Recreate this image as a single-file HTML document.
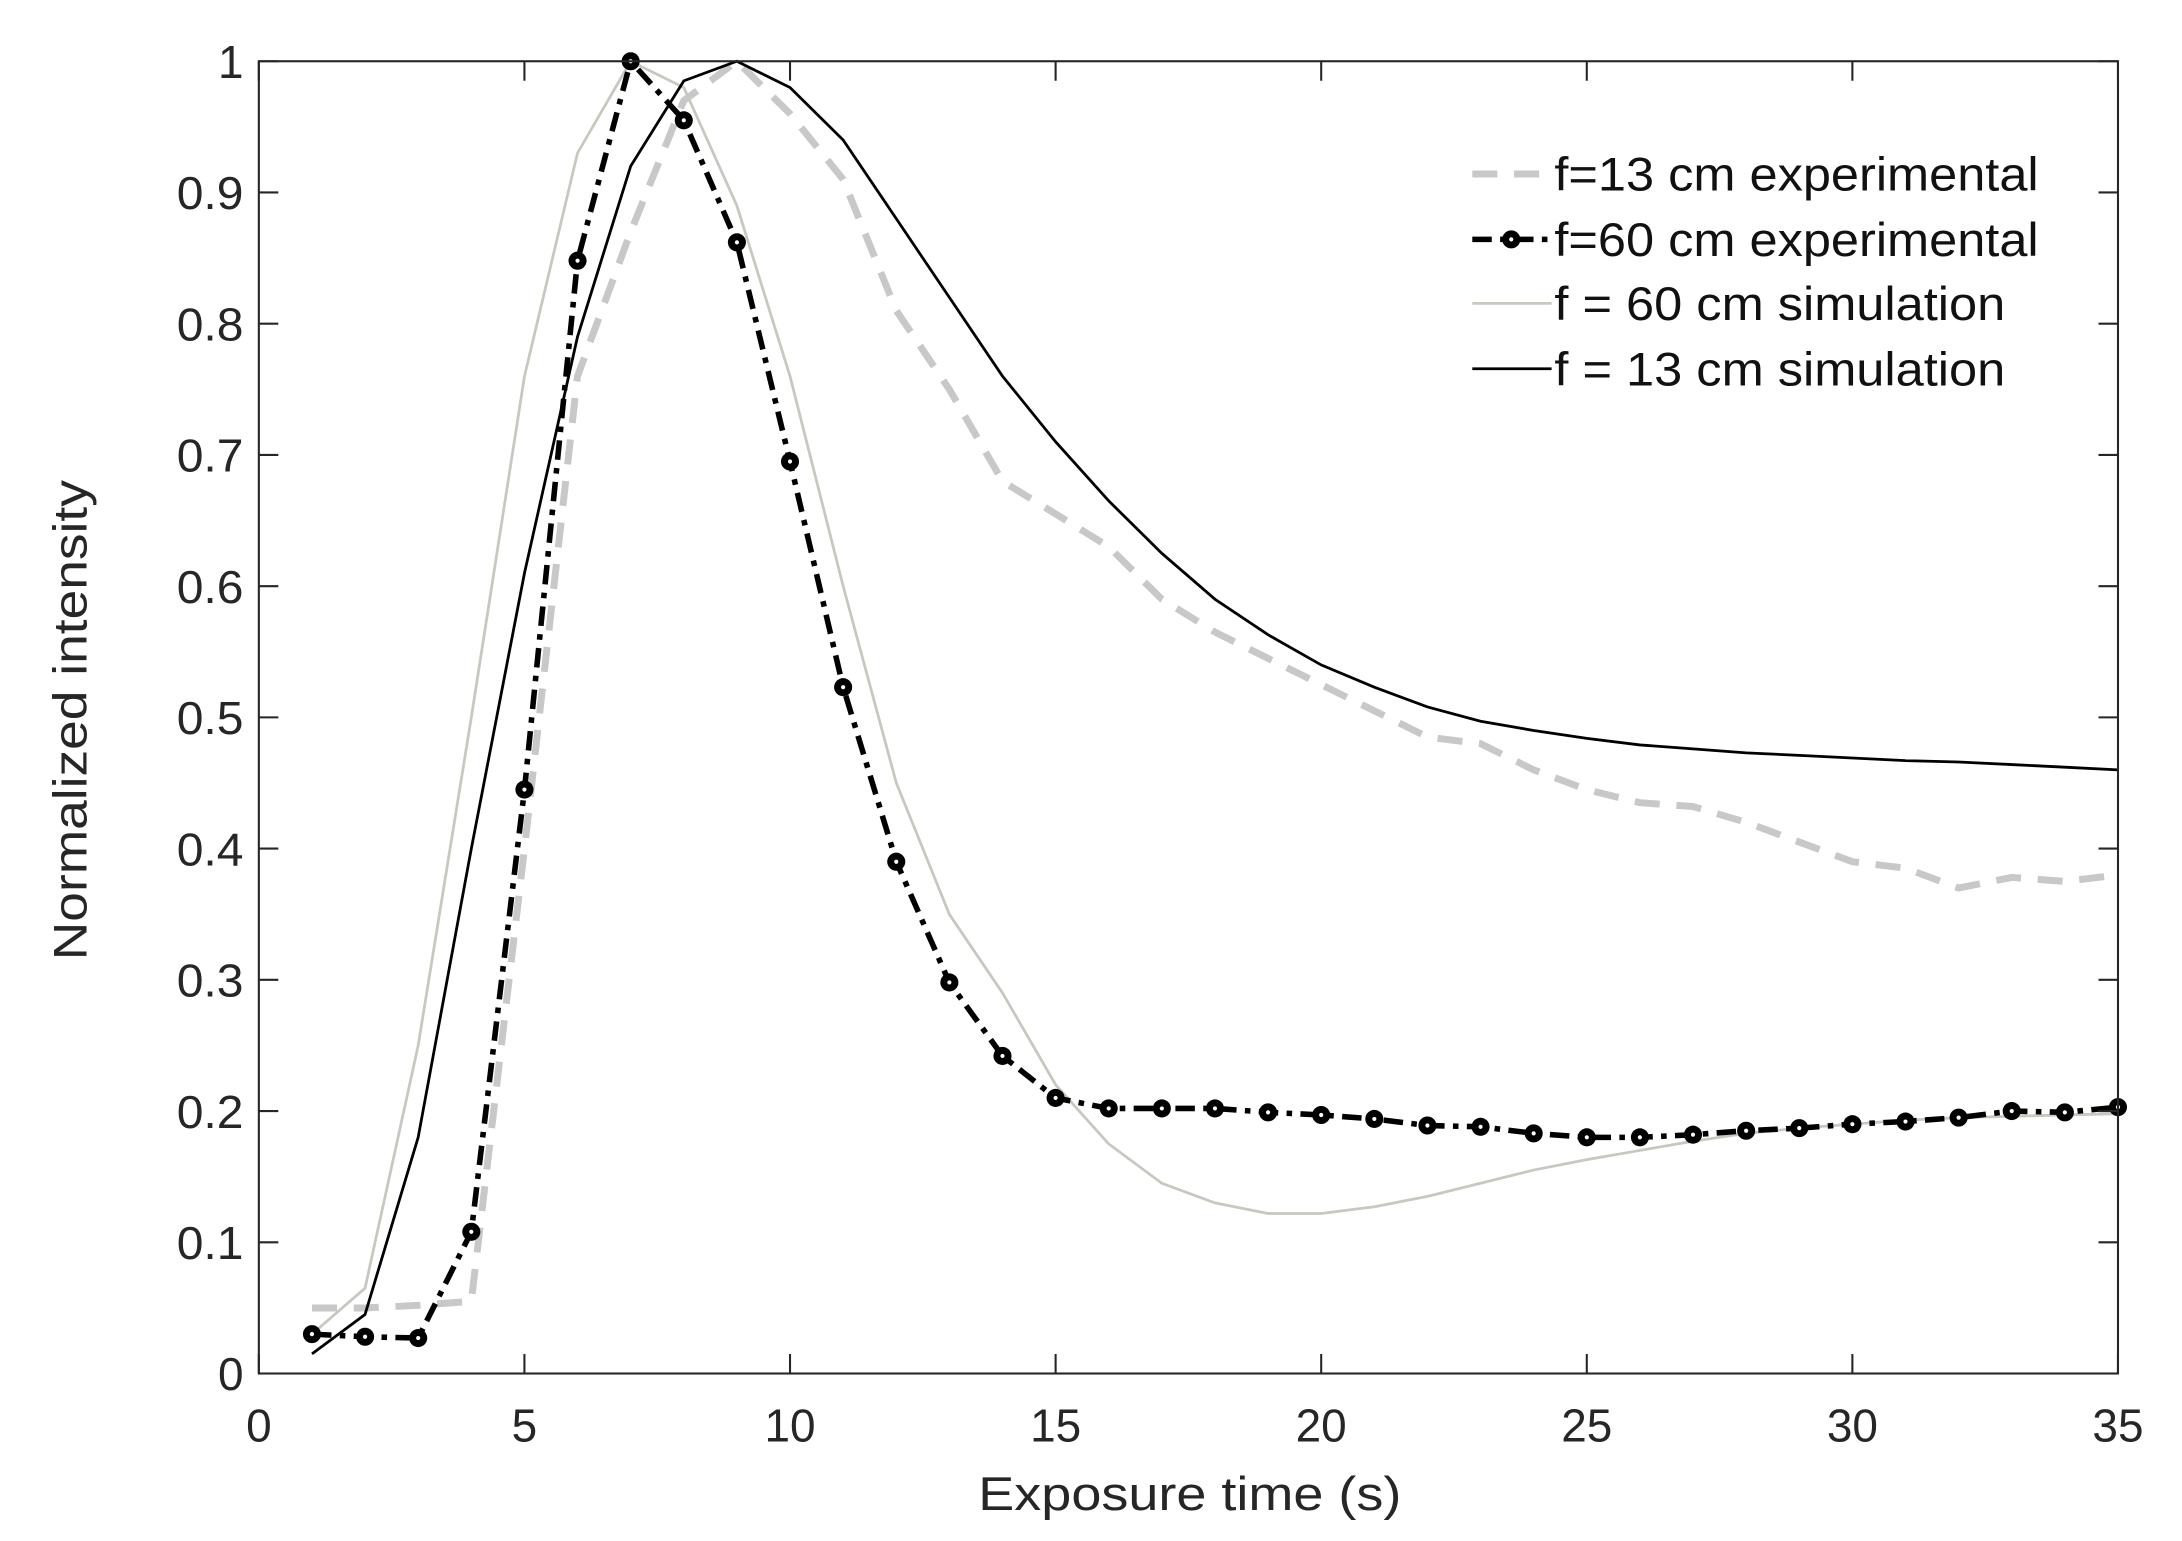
<!DOCTYPE html>
<html><head><meta charset="utf-8"><style>
html,body{margin:0;padding:0;background:#fff;}
svg{display:block;font-family:"Liberation Sans",Arial,sans-serif;}
</style></head><body>
<svg id="s" width="2182" height="1541" viewBox="0 0 1568 1107.35" xmlns="http://www.w3.org/2000/svg">
<rect width="1568" height="1108" fill="#fff"/>
<g id="plot"></g>
<rect x="186" y="44" width="1336" height="943" fill="none" stroke="#262626" stroke-width="1.5"/>
<g id="ticks" stroke="#262626" stroke-width="1.5"></g>
<g id="lbl" font-size="33" fill="#262626"></g>
<text x="703" y="1085" font-size="34" textLength="304" lengthAdjust="spacingAndGlyphs" fill="#262626">Exposure time (s)</text>
<text transform="translate(62,690) rotate(-90)" font-size="34" textLength="345" lengthAdjust="spacingAndGlyphs" fill="#262626">Normalized intensity</text>
<g font-size="34" fill="#111">
<line x1="1058" y1="125" x2="1115" y2="125" stroke="#c8c8c8" stroke-width="5" stroke-dasharray="18,12"/>
<text x="1117" y="137" textLength="348" lengthAdjust="spacingAndGlyphs">f=13 cm experimental</text>
<line x1="1058" y1="172" x2="1115" y2="172" stroke="#000" stroke-width="4" stroke-dasharray="14,6,4,6"/>
<circle cx="1086" cy="172" r="6.5" fill="#000"/><circle cx="1086" cy="172" r="1.5" fill="#fff"/>
<text x="1117" y="184" textLength="348" lengthAdjust="spacingAndGlyphs">f=60 cm experimental</text>
<line x1="1058" y1="218" x2="1115" y2="218" stroke="#c8c8c0" stroke-width="2"/>
<text x="1117" y="230" textLength="324" lengthAdjust="spacingAndGlyphs">f = 60 cm simulation</text>
<line x1="1058" y1="265" x2="1115" y2="265" stroke="#000" stroke-width="2"/>
<text x="1117" y="277" textLength="324" lengthAdjust="spacingAndGlyphs">f = 13 cm simulation</text>
</g>
</svg>
<script>
var X=t=>186+38.171*t, Y=v=>987-943*v, NS="http://www.w3.org/2000/svg";
function el(p,n,a){var e=document.createElementNS(NS,n);for(var k in a)e.setAttribute(k,a[k]);p.appendChild(e);return e;}
var plot=document.getElementById('plot');
function pts(d){return d.map((v,i)=>X(i+1).toFixed(1)+','+Y(v).toFixed(1)).join(' ');}
var e13=[0.05,0.05,0.052,0.055,0.4,0.76,0.87,0.97,1.0,0.96,0.91,0.81,0.75,0.68,0.655,0.63,0.59,0.565,0.545,0.525,0.505,0.485,0.48,0.46,0.445,0.435,0.432,0.42,0.405,0.39,0.385,0.37,0.378,0.375,0.38];
var s60=[0.03,0.065,0.25,0.5,0.76,0.93,1.0,0.98,0.89,0.76,0.6,0.45,0.35,0.29,0.22,0.175,0.145,0.13,0.122,0.122,0.127,0.135,0.145,0.155,0.163,0.17,0.177,0.183,0.187,0.19,0.193,0.195,0.196,0.197,0.198];
var s13=[0.015,0.045,0.18,0.4,0.61,0.79,0.92,0.985,1.0,0.98,0.94,0.88,0.82,0.76,0.71,0.665,0.625,0.59,0.563,0.54,0.523,0.508,0.497,0.49,0.484,0.479,0.476,0.473,0.471,0.469,0.467,0.466,0.464,0.462,0.46];
var e60=[0.03,0.028,0.027,0.108,0.445,0.848,1.0,0.955,0.862,0.695,0.523,0.39,0.298,0.242,0.21,0.202,0.202,0.202,0.199,0.197,0.194,0.189,0.188,0.183,0.18,0.18,0.182,0.185,0.187,0.19,0.192,0.195,0.2,0.199,0.203];
el(plot,'polyline',{points:pts(e13),fill:'none',stroke:'#c8c8c8','stroke-width':5,'stroke-dasharray':'18,12'});
el(plot,'polyline',{points:pts(s60),fill:'none',stroke:'#c8c8c0','stroke-width':2});
el(plot,'polyline',{points:pts(s13),fill:'none',stroke:'#000','stroke-width':2});
el(plot,'polyline',{points:pts(e60),fill:'none',stroke:'#000','stroke-width':4,'stroke-dasharray':'14,6,4,6'});
e60.forEach((v,i)=>{el(plot,'circle',{cx:X(i+1),cy:Y(v),r:6.5,fill:'#000'});el(plot,'circle',{cx:X(i+1),cy:Y(v),r:1.5,fill:'#fff'});});
var tk=document.getElementById('ticks'),lb=document.getElementById('lbl');
for(var t=0;t<=35;t+=5){var x=X(t);el(tk,'line',{x1:x,y1:987,x2:x,y2:973});el(tk,'line',{x1:x,y1:44,x2:x,y2:58});
 el(lb,'text',{x:x,y:1036,'text-anchor':'middle'}).textContent=t;}
for(var i=0;i<=10;i++){var v=i/10,y=Y(v);el(tk,'line',{x1:186,y1:y,x2:200,y2:y});el(tk,'line',{x1:1522,y1:y,x2:1508,y2:y});
 var s=(i==0?'0':i==10?'1':v.toFixed(1));
 var a={x:175,y:y+12,'text-anchor':'end'}; if(s.length==3){a.textLength=48;a.lengthAdjust='spacingAndGlyphs';}
 el(lb,'text',a).textContent=s;}
</script>
</body></html>
